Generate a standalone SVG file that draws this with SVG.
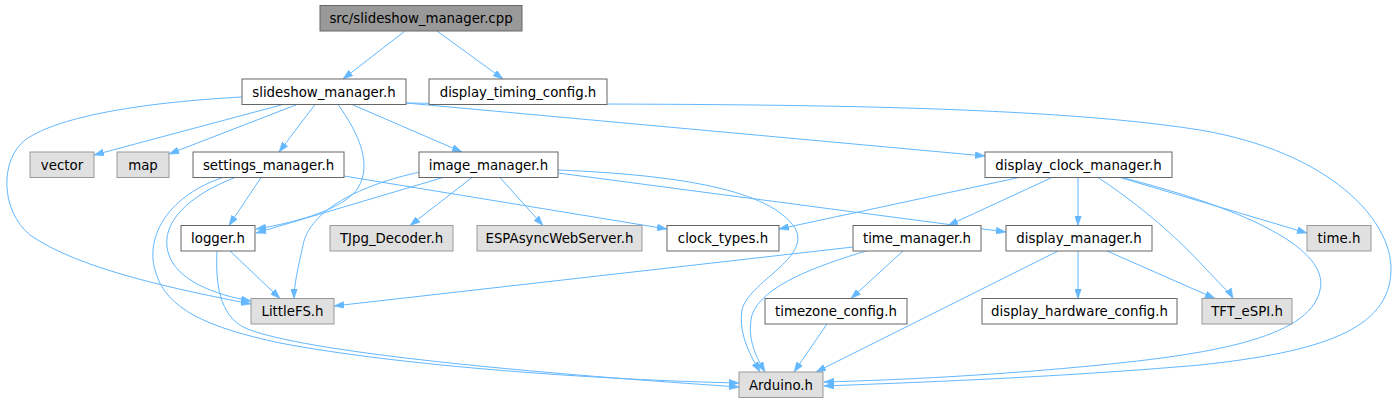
<svg xmlns="http://www.w3.org/2000/svg" width="1396" height="403" viewBox="0 0 1396 403">
<style>
.n rect{fill:#ffffff;stroke:#666666;stroke-width:1}
.g rect{fill:#e0e0e0;stroke:#999999;stroke-width:1}
.r rect{fill:#999999;stroke:#666666;stroke-width:1}
text{font-family:"DejaVu Sans","Liberation Sans",sans-serif;font-size:13.33px;text-anchor:middle;fill:#000000}
#edges path{fill:none;stroke:#63b8ff;stroke-width:1;marker-end:url(#a)}
</style>
<defs>
<marker id="a" viewBox="0 0 10 7" refX="10" refY="3.5" markerWidth="10" markerHeight="7" markerUnits="userSpaceOnUse" orient="auto">
<path d="M0,0 L10,3.5 L0,7 z" fill="#63b8ff" stroke="#63b8ff" stroke-width="0.5"/>
</marker>
</defs>
<rect width="1396" height="403" fill="#ffffff"/>
<g id="edges">
<path d="M405,31 L343,79"/>
<path d="M437,31 L503,79"/>
<path d="M283,104.5 L94,155"/>
<path d="M297,104.5 L169,154"/>
<path d="M315,104.5 L279,152"/>
<path d="M352,104.5 L462,152"/>
<path d="M338,104.5 C360,135 372,165 358,188 C345,208 300,222 256,229"/>
<path d="M242,97 C150,102 60,115 25,140 C0,160 0,210 30,235 C80,270 180,290 251,304"/>
<path d="M406,103 L985,156"/>
<path d="M406,103 C600,106 1000,98 1200,130 C1330,152 1392,220 1391,270 C1390,330 1320,352 1200,365 C1050,378 900,383 824,386"/>
<path d="M261,177.5 L229,225.5"/>
<path d="M235,177.5 C190,195 160,222 168,252 C175,280 215,295 251,301"/>
<path d="M223,177.5 C170,195 145,235 155,270 C165,310 210,328 280,343 C400,366 600,380 739,383"/>
<path d="M344,176 L667,229"/>
<path d="M443,177.5 L256,233"/>
<path d="M420,172 C360,185 310,210 303,245 C298,268 294,285 294,298.5"/>
<path d="M472,177.5 L410,225.5"/>
<path d="M500,177.5 L543,225.5"/>
<path d="M558,170 C680,175 770,190 795,228 C812,258 748,282 742,310 C738,335 752,358 760,372"/>
<path d="M558,173 L1006,232"/>
<path d="M1019,177.5 L779,229"/>
<path d="M1052,177.5 L948,225.5"/>
<path d="M1078,177.5 L1078,225.5"/>
<path d="M1098,177.5 C1140,205 1180,240 1205,268 C1220,284 1230,293 1233,298.5"/>
<path d="M1120,177.5 L1307,233"/>
<path d="M1122,177.5 C1250,210 1330,250 1320,290 C1310,340 1200,355 1100,365 C1000,375 900,380 824,382"/>
<path d="M853,247 L334,306"/>
<path d="M866,251 C820,265 762,285 752,315 C746,340 758,360 765,372"/>
<path d="M903,251 L851,298.5"/>
<path d="M230,251 L280,298.5"/>
<path d="M217,251 C215,290 222,320 250,330 C320,355 560,375 739,387"/>
<path d="M827,324 L794,372"/>
<path d="M1058,251 L816,372"/>
<path d="M1078,251 L1078,298.5"/>
<path d="M1107,251 L1215,298.5"/>
</g>
<g id="node_src" class="r"><rect x="320" y="5.5" width="202" height="25.5"/><text x="421" y="23">src/slideshow_manager.cpp</text></g>
<g id="node_slideshow_manager" class="n"><rect x="242" y="79" width="164" height="25.5"/><text x="324" y="96.5">slideshow_manager.h</text></g>
<g id="node_display_timing_config" class="n"><rect x="429" y="79" width="178" height="25.5"/><text x="518" y="96.5">display_timing_config.h</text></g>
<g id="node_vector" class="g"><rect x="30" y="152" width="64" height="25.5"/><text x="62" y="169.5">vector</text></g>
<g id="node_map" class="g"><rect x="117" y="152" width="52" height="25.5"/><text x="143" y="169.5">map</text></g>
<g id="node_settings_manager" class="n"><rect x="193" y="152" width="151" height="25.5"/><text x="268.5" y="169.5">settings_manager.h</text></g>
<g id="node_image_manager" class="n"><rect x="419" y="152" width="139" height="25.5"/><text x="488.5" y="169.5">image_manager.h</text></g>
<g id="node_display_clock_manager" class="n"><rect x="985" y="152" width="187" height="25.5"/><text x="1078.5" y="169.5">display_clock_manager.h</text></g>
<g id="node_logger" class="n"><rect x="181" y="225.5" width="74" height="25.5"/><text x="218" y="243">logger.h</text></g>
<g id="node_tjpg" class="g"><rect x="330" y="225.5" width="123" height="25.5"/><text x="391.5" y="243">TJpg_Decoder.h</text></g>
<g id="node_espasync" class="g"><rect x="477" y="225.5" width="165" height="25.5"/><text x="559.5" y="243">ESPAsyncWebServer.h</text></g>
<g id="node_clock_types" class="n"><rect x="667" y="225.5" width="112" height="25.5"/><text x="723" y="243">clock_types.h</text></g>
<g id="node_time_manager" class="n"><rect x="853" y="225.5" width="128" height="25.5"/><text x="917" y="243">time_manager.h</text></g>
<g id="node_display_manager" class="n"><rect x="1006" y="225.5" width="146" height="25.5"/><text x="1079" y="243">display_manager.h</text></g>
<g id="node_time" class="g"><rect x="1307" y="225.5" width="64" height="25.5"/><text x="1339" y="243">time.h</text></g>
<g id="node_littlefs" class="g"><rect x="251" y="298.5" width="83" height="25.5"/><text x="292.5" y="316">LittleFS.h</text></g>
<g id="node_timezone_config" class="n"><rect x="765" y="298.5" width="142" height="25.5"/><text x="836" y="316">timezone_config.h</text></g>
<g id="node_display_hardware_config" class="n"><rect x="982" y="298.5" width="195" height="25.5"/><text x="1079.5" y="316">display_hardware_config.h</text></g>
<g id="node_tft" class="g"><rect x="1202" y="298.5" width="90" height="25.5"/><text x="1247" y="316">TFT_eSPI.h</text></g>
<g id="node_arduino" class="g"><rect x="739" y="372" width="84" height="25.5"/><text x="781" y="389.5">Arduino.h</text></g>
</svg>
